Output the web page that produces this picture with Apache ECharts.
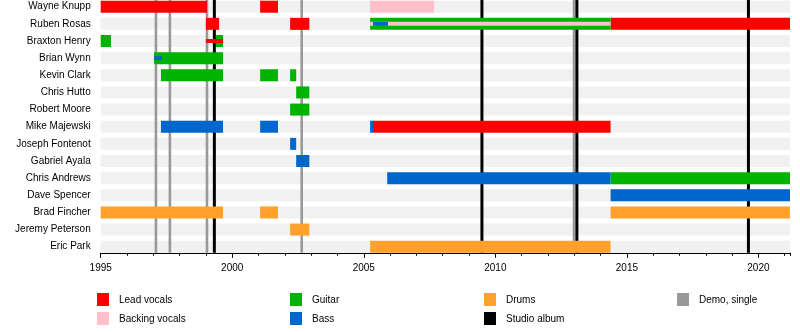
<!DOCTYPE html>
<html>
<head>
<meta charset="utf-8">
<script src="https://cdn.jsdelivr.net/npm/echarts@6/dist/echarts.min.js"></script>
<style>
  html, body { margin: 0; padding: 0; background: #fff; }
  #chart { width: 800px; height: 332px; }
</style>
</head>
<body>
<div id="chart"></div>
<script>
// Band members, top to bottom
const members = ['Wayne Knupp', 'Ruben Rosas', 'Braxton Henry', 'Brian Wynn', 'Kevin Clark',
  'Chris Hutto', 'Robert Moore', 'Mike Majewski', 'Joseph Fontenot', 'Gabriel Ayala',
  'Chris Andrews', 'Dave Spencer', 'Brad Fincher', 'Jeremy Peterson', 'Eric Park'];

const timelineStart = 1995;
const timelineEnd = 2021.2;
const yearLabels = [1995, 2000, 2005, 2010, 2015, 2020];

// Main roles: [member, from, to]
const leadVocals = [
  ['Wayne Knupp', 1995.0, 1999.04],
  ['Wayne Knupp', 2001.06, 2001.74],
  ['Ruben Rosas', 1999.0, 1999.5],
  ['Ruben Rosas', 2002.2, 2002.93],
  ['Ruben Rosas', 2014.38, 2021.2],
  ['Mike Majewski', 2005.35, 2014.38]
];
const backingVocals = [
  ['Wayne Knupp', 2005.24, 2007.67]
];
const guitar = [
  ['Ruben Rosas', 2005.24, 2014.38],
  ['Braxton Henry', 1995.0, 1995.39],
  ['Braxton Henry', 1999.38, 1999.65],
  ['Brian Wynn', 1997.03, 1999.65],
  ['Kevin Clark', 1997.29, 1999.65],
  ['Kevin Clark', 2001.06, 2001.74],
  ['Kevin Clark', 2002.2, 2002.43],
  ['Chris Hutto', 2002.43, 2002.93],
  ['Robert Moore', 2002.2, 2002.93],
  ['Chris Andrews', 2014.38, 2021.2]
];
const bass = [
  ['Mike Majewski', 1997.29, 1999.65],
  ['Mike Majewski', 2001.06, 2001.74],
  ['Mike Majewski', 2005.24, 2005.35],
  ['Joseph Fontenot', 2002.2, 2002.43],
  ['Gabriel Ayala', 2002.43, 2002.93],
  ['Chris Andrews', 2005.89, 2014.38],
  ['Dave Spencer', 2014.38, 2021.2]
];
const drums = [
  ['Brad Fincher', 1995.0, 1999.65],
  ['Brad Fincher', 2001.06, 2001.74],
  ['Brad Fincher', 2014.38, 2021.2],
  ['Jeremy Peterson', 2002.2, 2002.93],
  ['Eric Park', 2005.24, 2014.38]
];

// Secondary roles, drawn as narrow stripes over the main bars
const leadVocalsShared = [['Braxton Henry', 1999.0, 1999.65]];
const backingVocalsShared = [['Ruben Rosas', 2005.24, 2014.38]];
const bassShared = [['Ruben Rosas', 2005.35, 2005.92], ['Brian Wynn', 1997.03, 1997.33]];

// Release dates
const demoReleases = [1997.1, 1997.63, 1999.04, 2002.64, 2012.99];
const studioAlbums = [1999.32, 2009.49, 2013.1, 2019.62];

// ---------- styling ----------
const FONT = 'Liberation Sans, Arial, sans-serif';
const COLORS = {
  lead: '#ff0000', backing: '#ffc0cb', guitar: '#00b300', bass: '#0066cc',
  drums: '#ffa12b', album: '#000000', demo: '#999999', row: '#f1f1f1'
};
const BAR_H = 12;
const STRIPE_H = 4;
const AXIS_SHIFT = -2.5;

const toData = rows => rows.map(r => [r[1], r[2], members.indexOf(r[0])]);

function spanItem(height) {
  return function (params, api) {
    const row = api.value(2);
    const a = api.coord([api.value(0), row]);
    const b = api.coord([api.value(1), row]);
    return {
      type: 'rect',
      shape: { x: a[0], y: a[1] - height / 2, width: b[0] - a[0], height: height },
      style: { fill: api.visual('color') }
    };
  };
}

function releaseLine(width) {
  return function (params, api) {
    const x = api.coord([api.value(0), 0])[0];
    const cs = params.coordSys;
    return {
      type: 'line',
      shape: { x1: x, y1: cs.y, x2: x, y2: cs.y + cs.height + AXIS_SHIFT },
      style: { stroke: api.visual('color'), lineWidth: width }
    };
  };
}

// Row bands and release lines sit on the base layer; member bars on layer 1, stripes on layer 2
function spanSeries(name, rows, color, height, zlevel) {
  return {
    type: 'custom', name: name, zlevel: zlevel, z: 2, clip: false,
    renderItem: spanItem(height),
    itemStyle: { color: color },
    encode: { x: [0, 1], y: 2 },
    data: toData(rows)
  };
}

function lineSeries(name, years, color, width) {
  return {
    type: 'custom', name: name, zlevel: 0, z: 3, clip: false,
    renderItem: releaseLine(width),
    itemStyle: { color: color },
    encode: { x: 0, y: 1 },
    data: years.map(y => [y, 0])
  };
}

const rowBands = members.map(m => [m, timelineStart, timelineEnd]);

const series = [
  spanSeries('rows', rowBands, COLORS.row, BAR_H, 0),
  lineSeries('Demo, single', demoReleases, COLORS.demo, 2.6),
  lineSeries('Studio album', studioAlbums, COLORS.album, 3),
  spanSeries('Lead vocals', leadVocals, COLORS.lead, BAR_H, 1),
  spanSeries('Backing vocals', backingVocals, COLORS.backing, BAR_H, 1),
  spanSeries('Guitar', guitar, COLORS.guitar, BAR_H, 1),
  spanSeries('Bass', bass, COLORS.bass, BAR_H, 1),
  spanSeries('Drums', drums, COLORS.drums, BAR_H, 1),
  spanSeries('Lead vocals (shared)', leadVocalsShared, COLORS.lead, STRIPE_H, 2),
  spanSeries('Backing vocals (shared)', backingVocalsShared, COLORS.backing, STRIPE_H, 2),
  spanSeries('Bass (shared)', bassShared, COLORS.bass, STRIPE_H, 2)
];

// Legend laid out in four columns of two
const legendItems = [
  ['Lead vocals', COLORS.lead], ['Backing vocals', COLORS.backing],
  ['Guitar', COLORS.guitar], ['Bass', COLORS.bass],
  ['Drums', COLORS.drums], ['Studio album', COLORS.album],
  ['Demo, single', COLORS.demo]
];
const legendCols = [97, 290, 484, 677];
const legendRows = [293, 312];
const graphics = [];
legendItems.forEach(([label, color], i) => {
  const x = legendCols[Math.floor(i / 2)];
  const y = legendRows[i % 2];
  graphics.push({ type: 'rect', shape: { x: x, y: y, width: 12, height: 13 }, style: { fill: color } });
  graphics.push({
    type: 'text', x: x + 22, y: y + 7.5,
    style: { text: label, fill: '#000', fontSize: 10, fontFamily: FONT, verticalAlign: 'middle', align: 'left' }
  });
});

const chart = echarts.init(document.getElementById('chart'), null, { renderer: 'canvas' });
chart.setOption({
  animation: false,
  backgroundColor: '#fff',
  grid: { left: 100.7, right: 10, top: -1.87, bottom: 76.7, containLabel: false, outerBoundsMode: 'none' },
  xAxis: [
    {
      type: 'value', min: timelineStart, max: timelineEnd, interval: 1, position: 'bottom', offset: AXIS_SHIFT,
      axisLine: { show: true, lineStyle: { color: '#000', width: 1 } },
      axisTick: { show: true, length: 3, lineStyle: { color: '#000' } },
      axisLabel: { show: false },
      splitLine: { show: false }
    },
    {
      type: 'value', min: timelineStart, max: timelineEnd, interval: 5, position: 'bottom', offset: AXIS_SHIFT,
      axisLine: { show: false },
      axisTick: { show: true, length: 5, lineStyle: { color: '#000' }, customValues: yearLabels },
      axisLabel: {
        color: '#000', fontSize: 10, fontFamily: FONT, margin: 10, customValues: yearLabels,
        formatter: v => String(v)
      },
      splitLine: { show: false }
    }
  ],
  yAxis: {
    type: 'category', data: members, inverse: true,
    axisLine: { show: false }, axisTick: { show: false }, splitLine: { show: false },
    axisLabel: { color: '#000', fontSize: 10, fontFamily: FONT, margin: 10, padding: [2, 0, 0, 0] }
  },
  graphic: graphics,
  series: series
});
</script>
</body>
</html>
